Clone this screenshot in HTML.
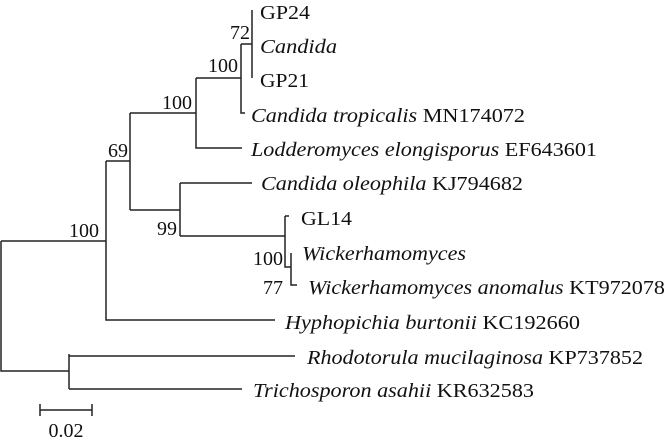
<!DOCTYPE html>
<html><head><meta charset="utf-8"><style>
html,body{margin:0;padding:0;background:#fff;}
svg{display:block;}
text{font-family:"Liberation Serif","Times New Roman",Times,serif;font-size:20px;fill:#111;}
.i{font-style:italic;}
</style></head><body>
<svg width="668" height="442" viewBox="0 0 668 442" xmlns="http://www.w3.org/2000/svg" font-family="Liberation Serif, Times New Roman, serif">
<g stroke="#222" stroke-width="1.5" fill="none">
<path d="M1,241 H106 M1,241 V371 H69 M69,354 V389 M69,356 H295 M69,389 H242"/>
<path d="M106,161 V320 H275 M106,161 H130"/>
<path d="M130,113 V210 M130,113 H196 M130,210 H180"/>
<path d="M196,78 V148 H242 M196,78 H241"/>
<path d="M241,44 V113 H245 M241,44 H252 M252,10 V78"/>
<path d="M180,183 V236 M180,183 H252 M180,236 H285"/>
<path d="M285,216 V267 H291 M285,216 H289 M291,253 V285 H297"/>
<path d="M40,410 H92 M40,404 V416 M92,404 V416"/>
</g>
<text x="260" y="19" textLength="50" lengthAdjust="spacingAndGlyphs">GP24</text>
<text class="i" x="260" y="53" textLength="77" lengthAdjust="spacingAndGlyphs">Candida</text>
<text x="260" y="87" textLength="49" lengthAdjust="spacingAndGlyphs">GP21</text>
<text x="251" y="122" textLength="274" lengthAdjust="spacingAndGlyphs"><tspan class="i">Candida tropicalis</tspan> MN174072</text>
<text x="251" y="156" textLength="346" lengthAdjust="spacingAndGlyphs"><tspan class="i">Lodderomyces elongisporus</tspan> EF643601</text>
<text x="261" y="190" textLength="262" lengthAdjust="spacingAndGlyphs"><tspan class="i">Candida oleophila</tspan> KJ794682</text>
<text x="301" y="225" textLength="51" lengthAdjust="spacingAndGlyphs">GL14</text>
<text class="i" x="302" y="260" textLength="164" lengthAdjust="spacingAndGlyphs">Wickerhamomyces</text>
<text x="308" y="294" textLength="357" lengthAdjust="spacingAndGlyphs"><tspan class="i">Wickerhamomyces anomalus</tspan> KT972078</text>
<text x="285" y="329" textLength="295" lengthAdjust="spacingAndGlyphs"><tspan class="i">Hyphopichia burtonii</tspan> KC192660</text>
<text x="307" y="364" textLength="336" lengthAdjust="spacingAndGlyphs"><tspan class="i">Rhodotorula mucilaginosa</tspan> KP737852</text>
<text x="253" y="397" textLength="281" lengthAdjust="spacingAndGlyphs"><tspan class="i">Trichosporon asahii</tspan> KR632583</text>
<g text-anchor="end">
<text x="250" y="39">72</text>
<text x="238" y="72">100</text>
<text x="192" y="109">100</text>
<text x="128" y="157">69</text>
<text x="99" y="237">100</text>
<text x="177" y="235">99</text>
<text x="283" y="265">100</text>
<text x="283" y="294">77</text>
</g>
<text x="66" y="437" text-anchor="middle">0.02</text>
</svg>
</body></html>
